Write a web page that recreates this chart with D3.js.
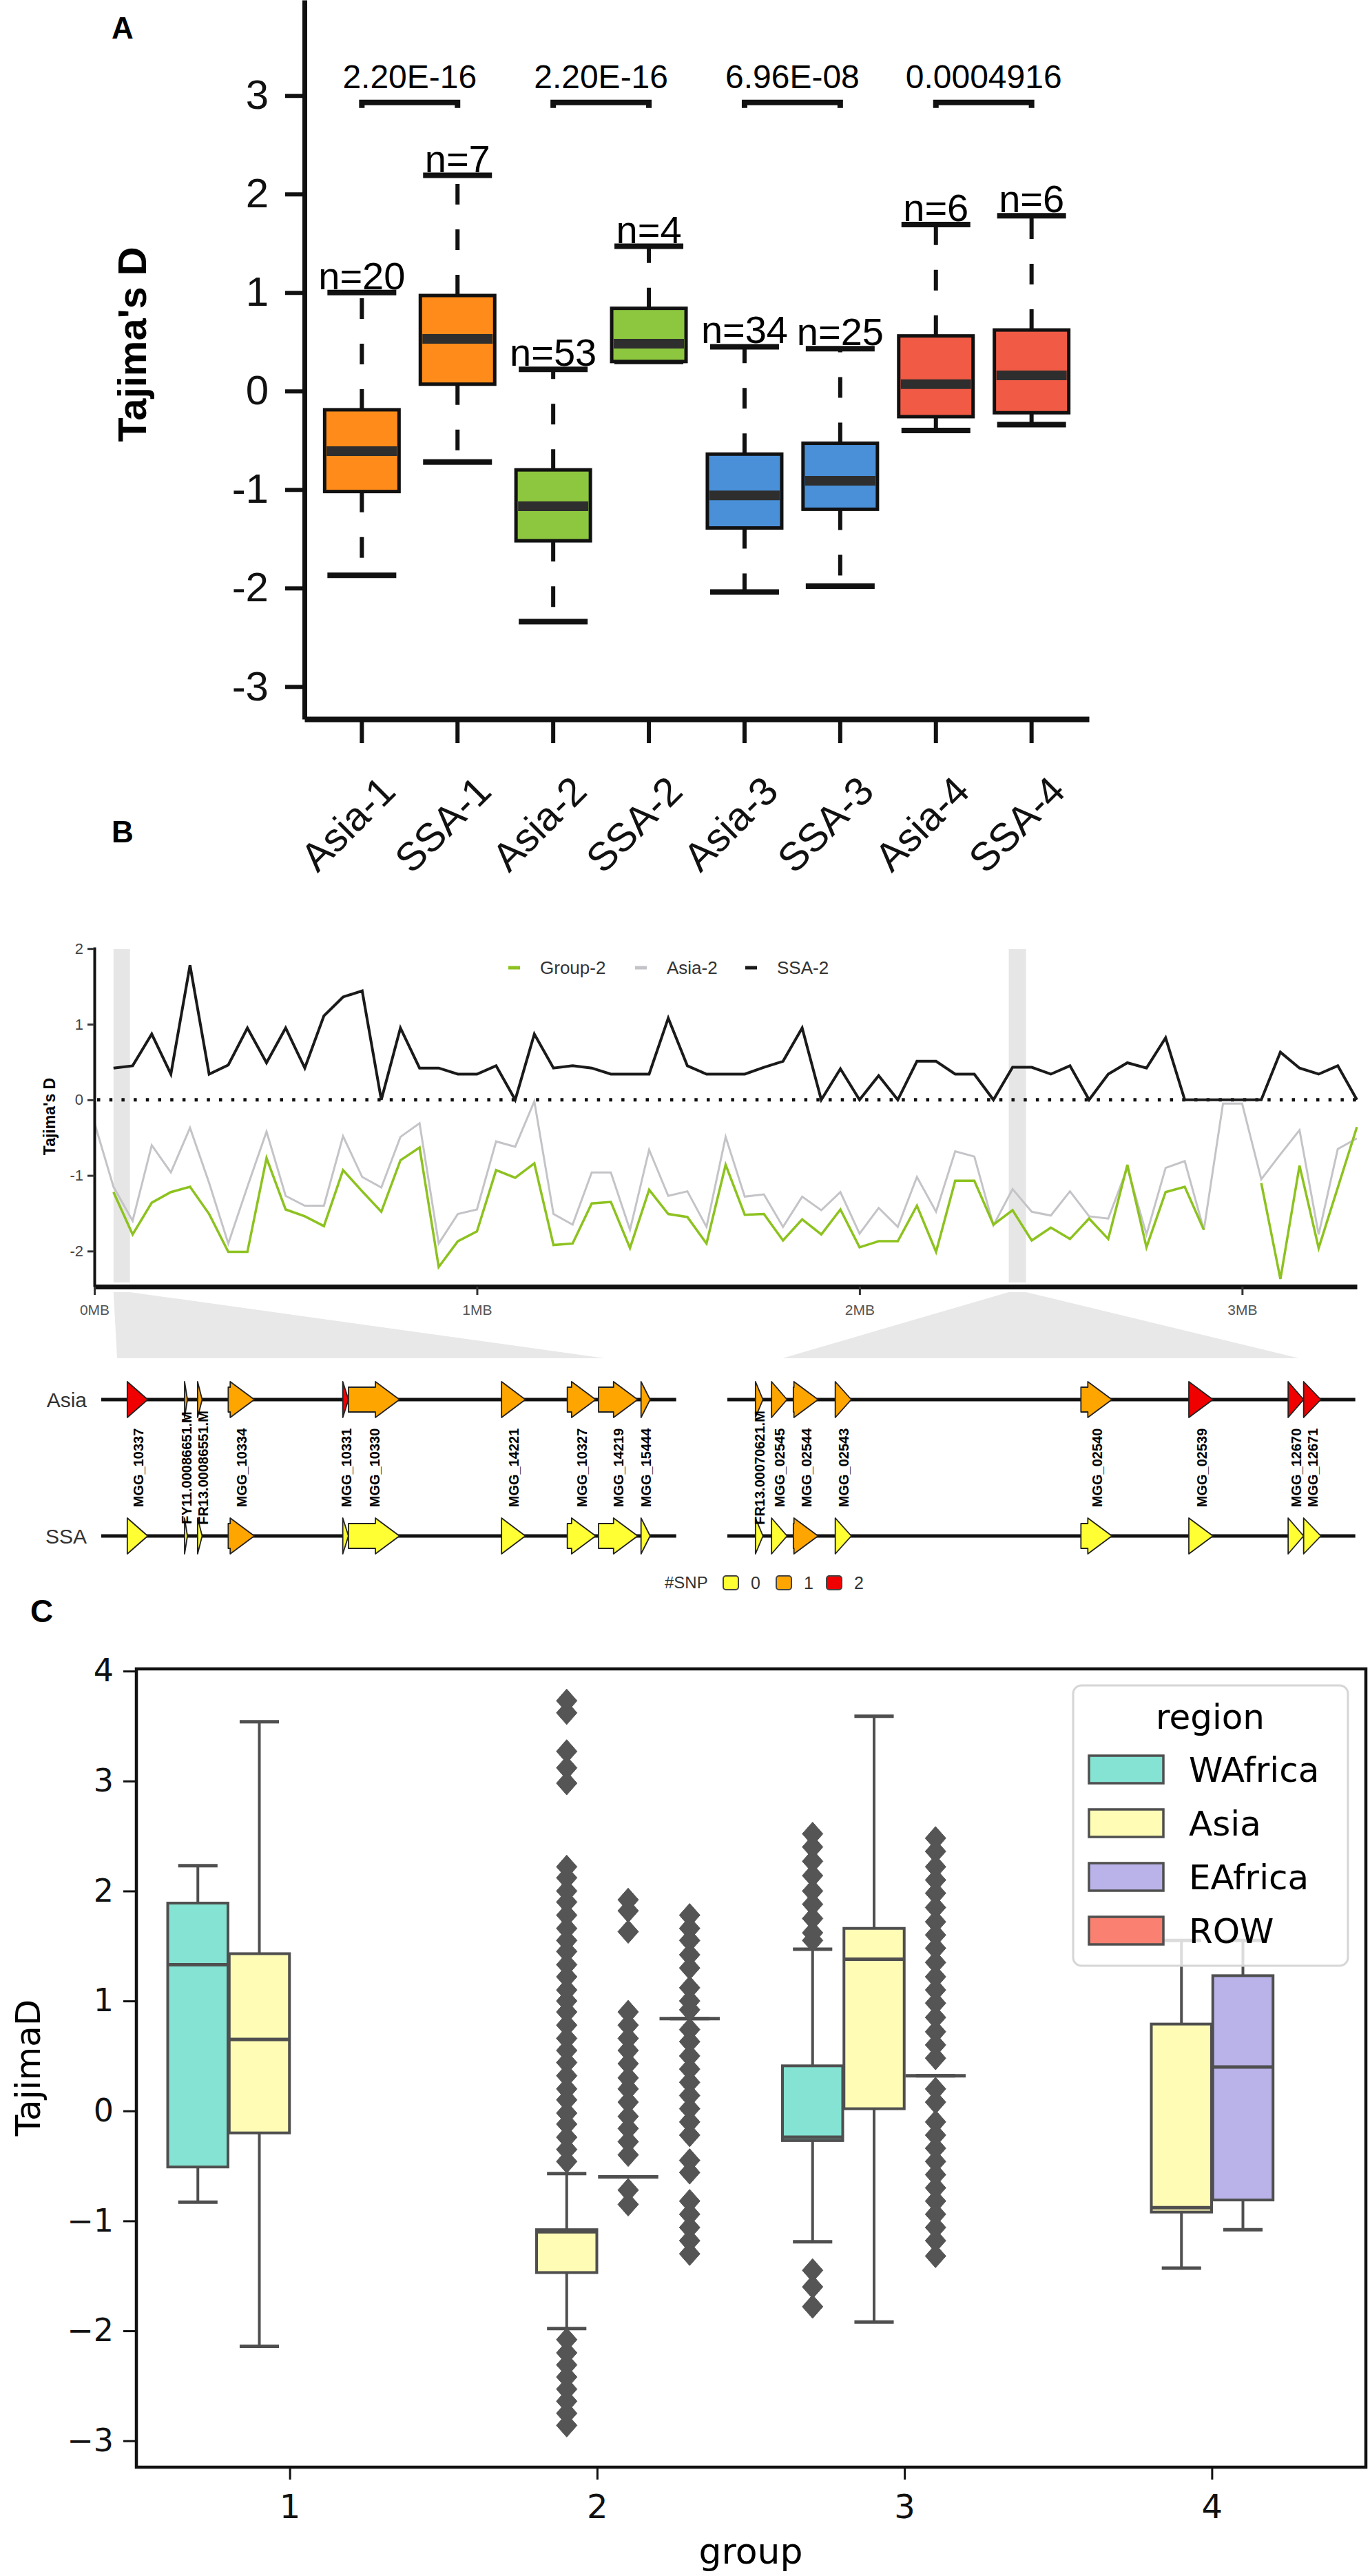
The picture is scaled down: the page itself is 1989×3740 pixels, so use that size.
<!DOCTYPE html>
<html>
<head>
<meta charset="utf-8">
<script src="https://cdn.jsdelivr.net/npm/d3@7"></script>
<style>
body { margin: 0; background: #fff; }
svg { display: block; }
</style>
</head>
<body>
<div id="chart"></div>
<script>
// ---------- Panel A : Tajima's D per sub-population ----------
var groupsA = ['Asia-1', 'SSA-1', 'Asia-2', 'SSA-2', 'Asia-3', 'SSA-3', 'Asia-4', 'SSA-4'];
var lowA  = [-1.87, -0.72, -2.34, 0.30, -2.04, -1.98, -0.40, -0.34];
var q1A   = [-1.02, 0.07, -1.52, 0.30, -1.39, -1.20, -0.26, -0.22];
var medA  = [-0.61, 0.53, -1.17, 0.48, -1.06, -0.91, 0.07, 0.16];
var q3A   = [-0.19, 0.97, -0.80, 0.84, -0.64, -0.53, 0.56, 0.62];
var highA = [1.00, 2.19, 0.22, 1.47, 0.45, 0.43, 1.69, 1.78];
var nA    = ['n=20', 'n=7', 'n=53', 'n=4', 'n=34', 'n=25', 'n=6', 'n=6'];
var pvalA = ['2.20E-16', '2.20E-16', '6.96E-08', '0.0004916'];
var ticksA = [-3, -2, -1, 0, 1, 2, 3];
var colorA = ['#FF8C1A', '#FF8C1A', '#8DC63F', '#8DC63F', '#4A90D9', '#4A90D9', '#F15B45', '#F15B45'];

// ---------- Panel B : sliding-window Tajima's D ----------
var posB = [0, 0.05, 0.10, 0.15, 0.20, 0.25, 0.30, 0.35, 0.40, 0.45, 0.50, 0.55, 0.60, 0.65, 0.70, 0.75,
  0.80, 0.85, 0.90, 0.95, 1.00, 1.05, 1.10, 1.15, 1.20, 1.25, 1.30, 1.35, 1.40, 1.45, 1.50, 1.55,
  1.60, 1.65, 1.70, 1.75, 1.80, 1.85, 1.90, 1.95, 2.00, 2.05, 2.10, 2.15, 2.20, 2.25, 2.30, 2.35,
  2.40, 2.45, 2.50, 2.55, 2.60, 2.65, 2.70, 2.75, 2.80, 2.85, 2.90, 2.95, 3.00, 3.05, 3.10, 3.15,
  3.20, 3.25, 3.30];
var ssa2 = [null, 0.42, 0.45, 0.87, 0.34, 1.78, 0.34, 0.46, 0.95, 0.49, 0.95, 0.42, 1.11, 1.36, 1.44, 0.00,
  0.95, 0.42, 0.42, 0.34, 0.34, 0.45, 0.00, 0.87, 0.42, 0.45, 0.42, 0.34, 0.34, 0.34, 1.08, 0.45,
  0.34, 0.34, 0.34, 0.43, 0.51, 0.95, 0.00, 0.41, 0.00, 0.32, 0.00, 0.51, 0.51, 0.34, 0.34, 0.00,
  0.43, 0.43, 0.34, 0.45, 0.00, 0.34, 0.49, 0.42, 0.82, 0.00, 0.00, 0.00, 0.00, 0.00, 0.63, 0.42,
  0.34, 0.45, 0.00];
var group2 = [null, -1.22, -1.78, -1.36, -1.22, -1.15, -1.51, -2.01, -2.01, -0.77, -1.45, -1.54, -1.67, -0.93, -1.21, -1.48,
  -0.80, -0.63, -2.21, -1.87, -1.74, -0.93, -1.03, -0.84, -1.92, -1.90, -1.37, -1.35, -1.96, -1.19, -1.51, -1.55,
  -1.90, -0.86, -1.52, -1.51, -1.86, -1.58, -1.78, -1.45, -1.95, -1.87, -1.87, -1.40, -2.01, -1.07, -1.07, -1.65,
  -1.46, -1.86, -1.69, -1.84, -1.57, -1.84, -0.86, -1.95, -1.22, -1.15, -1.72, null, null, -1.10, -2.37, -0.87,
  -1.96, -1.16, -0.36];
var asia2 = [-0.30, -1.15, -1.60, -0.60, -0.96, -0.37, -1.10, -1.90, -1.15, -0.42, -1.27, -1.40, -1.40, -0.48, -1.02, -1.16,
  -0.49, -0.31, -1.90, -1.51, -1.45, -0.55, -0.62, -0.02, -1.51, -1.65, -0.96, -0.96, -1.72, -0.66, -1.27, -1.21,
  -1.68, -0.49, -1.28, -1.25, -1.68, -1.28, -1.46, -1.22, -1.77, -1.43, -1.68, -1.02, -1.48, -0.68, -0.75, -1.66,
  -1.18, -1.48, -1.53, -1.21, -1.54, -1.57, -0.90, -1.78, -0.90, -0.81, -1.72, -0.05, -0.05, -1.05, -0.72, -0.40,
  -1.78, -0.65, -0.51];
var seriesNamesB = ['Group-2', 'Asia-2', 'SSA-2'];
var ticksB = [-2, -1, 0, 1, 2];
var ticksMB = [0, 1, 2, 3];
var winStartMB = [0.050, 2.390];
var winEndMB = [0.093, 2.435];

// genes in the two zoomed windows (kb), SNP counts per population
var geneNamesL = ['MGG_10337', 'FY11.00086651.M', 'FR13.00086551.M', 'MGG_10334', 'MGG_10331', 'MGG_10330',
  'MGG_14221', 'MGG_10327', 'MGG_14219', 'MGG_15444'];
var geneStartL = [50.9, 55.95, 57.1, 59.8, 69.9, 70.4, 83.9, 89.7, 92.45, 96.2];
var geneEndL   = [52.7, 56.2, 57.5, 62.1, 70.4, 74.9, 86.0, 92.2, 95.9, 97.0];
var snpAsiaL = [2, 1, 1, 1, 2, 1, 1, 1, 1, 1];
var snpSsaL  = [0, 0, 0, 1, 0, 0, 0, 0, 0, 0];
var geneNamesR = ['FR13.00070621.M', 'MGG_02545', 'MGG_02544', 'MGG_02543', 'MGG_02540', 'MGG_02539', 'MGG_12670', 'MGG_12671'];
var geneStartR = [2387.65, 2389.05, 2390.95, 2394.6, 2416.0, 2425.4, 2434.05, 2435.4];
var geneEndR   = [2388.3, 2390.4, 2393.1, 2396.0, 2418.7, 2427.5, 2435.4, 2436.9];
var snpAsiaR = [1, 1, 1, 1, 1, 2, 2, 2];
var snpSsaR  = [0, 0, 1, 0, 0, 0, 0, 0];
var trackStartKb = [48.6, 2385.2];
var trackEndKb = [99.3, 2439.9];
var snpLevels = [0, 1, 2];
var snpColors = ['#FFFF33', '#FFA500', '#F00000'];

// ---------- Panel C : Tajima's D by group and region ----------
var groupsC = ['1', '2', '3', '4'];
var regionsC = ['WAfrica', 'Asia', 'EAfrica', 'ROW'];
var regionColors = ['#84E3D2', '#FFFDB5', '#B9B3E9', '#FA8072'];
var ticksC = [-3, -2, -1, 0, 1, 2, 3, 4];
var boxGroupC  = ['1', '1', '2', '2', '2', '3', '3', '3', '4', '4'];
var boxRegionC = ['WAfrica', 'Asia', 'Asia', 'EAfrica', 'ROW', 'WAfrica', 'Asia', 'EAfrica', 'Asia', 'EAfrica'];
var lowC  = [-0.83, -2.14, -1.98, -0.60, 0.84, -1.19, -1.92, 0.32, -1.43, -1.08];
var q1C   = [-0.51, -0.20, -1.47, -0.60, 0.84, -0.27, 0.02, 0.32, -0.92, -0.81];
var medC  = [1.33, 0.65, -1.10, -0.60, 0.84, -0.24, 1.38, 0.32, -0.88, 0.40];
var q3C   = [1.89, 1.43, -1.08, -0.60, 0.84, 0.41, 1.66, 0.32, 0.79, 1.23];
var highC = [2.23, 3.54, -0.57, -0.60, 0.84, 1.47, 3.59, 0.32, 1.55, 1.55];
var fliers2Asia = [3.73, 3.62, 3.27, 3.12, 2.98, 2.22, 2.12, 2.00, 1.90, 1.78, 1.66, 1.55, 1.45, 1.33, 1.22,
  1.10, 1.00, 0.90, 0.78, 0.66, 0.55, 0.44, 0.32, 0.20, 0.10, -0.02, -0.12, -0.24, -0.35, -0.46,
  -2.08, -2.20, -2.31, -2.42, -2.53, -2.64, -2.75, -2.86];
var fliers2EAfrica = [1.92, 1.82, 1.63, 0.90, 0.78, 0.66, 0.55, 0.43, 0.30, 0.20, 0.08, -0.05, -0.16, -0.28, -0.40, -0.72, -0.85];
var fliers2ROW = [1.78, 1.66, 1.55, 1.42, 1.30, 1.12, 1.00, 0.92, 0.74, 0.63, 0.50, 0.38, 0.26, 0.14, 0.02,
  -0.10, -0.22, -0.45, -0.56, -0.82, -0.94, -1.06, -1.18, -1.30];
var fliers3WAfrica = [2.52, 2.40, 2.27, 2.14, 2.00, 1.88, 1.75, 1.62, 1.55, -1.45, -1.60, -1.78];
var fliers3EAfrica = [2.48, 2.36, 2.22, 2.10, 1.98, 1.85, 1.72, 1.60, 1.48, 1.35, 1.22, 1.10, 0.98, 0.85, 0.72,
  0.60, 0.48, 0.20, 0.08, -0.10, -0.22, -0.34, -0.46, -0.58, -0.70, -0.82, -0.94, -1.06, -1.18, -1.32];

var width = 1989, height = 3740;
var fontA = "'Liberation Sans', Arial, sans-serif";
var fontC = "'DejaVu Sans', sans-serif";

var svg = d3.select('#chart')
  .append('svg')
  .attr('width', width)
  .attr('height', height)
  .style('font-family', fontA);

svg.append('rect').attr('width', width).attr('height', height).attr('fill', '#fff');

// panel letters
svg.append('text').attr('x', 162).attr('y', 56).text('A')
  .attr('font-size', 44).attr('font-weight', 'bold');
svg.append('text').attr('x', 162).attr('y', 1223).text('B')
  .attr('font-size', 44).attr('font-weight', 'bold');
svg.append('text').attr('x', 44).attr('y', 2355).text('C')
  .attr('font-size', 46).attr('font-weight', 'bold');

// =============== PANEL A ===============
var yA = d3.scaleLinear().domain([-3.33, 3.97]).range([1044, 0]);
var xA = d3.scaleBand().domain(groupsA).range([442, 1581]).paddingInner(0).paddingOuter(0.1);
var cxA = function(g) { return xA(g) + xA.bandwidth() / 2; };

var boxesA = groupsA.map(function(g, i) {
  return { g: g, low: lowA[i], q1: q1A[i], med: medA[i], q3: q3A[i], high: highA[i], n: nA[i], color: colorA[i] };
});

var gA = svg.append('g');
var boxW = 108, capW = 100;

// dashed whiskers
gA.selectAll('.wup').data(boxesA).enter().append('line')
  .attr('x1', d => cxA(d.g)).attr('x2', d => cxA(d.g))
  .attr('y1', d => yA(d.q3)).attr('y2', d => yA(d.high))
  .attr('stroke', '#111').attr('stroke-width', 6).attr('stroke-dasharray', '30,36');
gA.selectAll('.wdn').data(boxesA).enter().append('line')
  .attr('x1', d => cxA(d.g)).attr('x2', d => cxA(d.g))
  .attr('y1', d => yA(d.q1)).attr('y2', d => yA(d.low))
  .attr('stroke', '#111').attr('stroke-width', 6).attr('stroke-dasharray', '30,36');

// caps
gA.selectAll('.capup').data(boxesA).enter().append('line')
  .attr('x1', d => cxA(d.g) - capW / 2).attr('x2', d => cxA(d.g) + capW / 2)
  .attr('y1', d => yA(d.high)).attr('y2', d => yA(d.high))
  .attr('stroke', '#111').attr('stroke-width', 8);
gA.selectAll('.capdn').data(boxesA).enter().append('line')
  .attr('x1', d => cxA(d.g) - capW / 2).attr('x2', d => cxA(d.g) + capW / 2)
  .attr('y1', d => yA(d.low)).attr('y2', d => yA(d.low))
  .attr('stroke', '#111').attr('stroke-width', 8);

// boxes
gA.selectAll('.box').data(boxesA).enter().append('rect')
  .attr('x', d => cxA(d.g) - boxW / 2)
  .attr('y', d => yA(d.q3))
  .attr('width', boxW)
  .attr('height', d => yA(d.q1) - yA(d.q3))
  .attr('fill', d => d.color)
  .attr('stroke', '#111').attr('stroke-width', 5);

// medians
gA.selectAll('.med').data(boxesA).enter().append('line')
  .attr('x1', d => cxA(d.g) - boxW / 2 + 3).attr('x2', d => cxA(d.g) + boxW / 2 - 3)
  .attr('y1', d => yA(d.med)).attr('y2', d => yA(d.med))
  .attr('stroke', '#2e2e2e').attr('stroke-width', 14);

// n labels
gA.selectAll('.nlab').data(boxesA).enter().append('text')
  .attr('x', d => cxA(d.g))
  .attr('y', d => yA(d.high) - 5)
  .attr('text-anchor', 'middle')
  .attr('font-size', 56)
  .text(d => d.n);

// significance brackets
var bracketY = yA(2.93);
pvalA.forEach(function(p, k) {
  var x1 = cxA(groupsA[2 * k]), x2 = cxA(groupsA[2 * k + 1]);
  gA.append('path')
    .attr('d', 'M' + x1 + ',' + (bracketY + 8) + 'V' + bracketY + 'H' + x2 + 'V' + (bracketY + 8))
    .attr('fill', 'none').attr('stroke', '#111').attr('stroke-width', 8);
  gA.append('text')
    .attr('x', (x1 + x2) / 2).attr('y', bracketY - 21)
    .attr('text-anchor', 'middle').attr('font-size', 48)
    .text(p);
});

// axes A
var yAxisA = d3.axisLeft(yA).tickValues(ticksA).tickFormat(String)
  .tickSize(28).tickSizeOuter(0).tickPadding(24);
var gyA = svg.append('g').attr('transform', 'translate(442,0)').call(yAxisA);
gyA.select('.domain').attr('stroke', '#111').attr('stroke-width', 7);
gyA.selectAll('.tick line').attr('stroke', '#111').attr('stroke-width', 6);
gyA.selectAll('.tick text').attr('font-size', 60).attr('font-family', fontA).attr('fill', '#111');

var xAxisA = d3.axisBottom(xA).tickSize(35).tickSizeOuter(0);
var gxA = svg.append('g').attr('transform', 'translate(0,1044)').call(xAxisA);
gxA.select('.domain').attr('stroke', '#111').attr('stroke-width', 8);
gxA.selectAll('.tick line').attr('stroke', '#111').attr('stroke-width', 6);
gxA.selectAll('.tick text')
  .attr('x', 0).attr('y', 0).attr('dy', 0)
  .attr('text-anchor', 'end')
  .attr('transform', 'translate(52,108) rotate(-45)')
  .attr('font-size', 58).attr('font-family', fontA).attr('fill', '#111');

svg.append('text')
  .attr('transform', 'translate(212,500) rotate(-90)')
  .attr('text-anchor', 'middle')
  .attr('font-size', 58).attr('font-weight', 'bold')
  .text("Tajima's D");

// =============== PANEL B ===============
var xB = d3.scaleLinear().domain([0, 3.30]).range([137, 1970]);
var yB = d3.scaleLinear().domain([-2.47, 2.02]).range([1868, 1375]);
var gB = svg.append('g');

// highlighted windows
winStartMB.forEach(function(s, w) {
  gB.append('rect')
    .attr('x', xB(s)).attr('y', yB(2.02) + 3)
    .attr('width', xB(winEndMB[w]) - xB(s))
    .attr('height', yB(-2.47) - yB(2.02) - 9)
    .attr('fill', '#e6e6e6');
});

// zero reference
gB.append('line')
  .attr('x1', xB(0) + 4).attr('x2', xB(3.30))
  .attr('y1', yB(0)).attr('y2', yB(0))
  .attr('stroke', '#111').attr('stroke-width', 5).attr('stroke-dasharray', '4.5,13.2');

var rowsB = posB.map(function(p, i) {
  return { pos: p, asia: asia2[i], group: group2[i], ssa: ssa2[i] };
});
function lineB(key) {
  return d3.line()
    .defined(d => d[key] !== null)
    .x(d => xB(d.pos))
    .y(d => yB(d[key]));
}
gB.append('path').datum(rowsB).attr('d', lineB('asia'))
  .attr('fill', 'none').attr('stroke', '#c4c4c8').attr('stroke-width', 3);
gB.append('path').datum(rowsB).attr('d', lineB('group'))
  .attr('fill', 'none').attr('stroke', '#8DC21F').attr('stroke-width', 3.5);
gB.append('path').datum(rowsB).attr('d', lineB('ssa'))
  .attr('fill', 'none').attr('stroke', '#1a1a1a').attr('stroke-width', 4);

var yAxisB = d3.axisLeft(yB).tickValues(ticksB).tickFormat(String)
  .tickSize(10).tickSizeOuter(0).tickPadding(6);
var gyB = svg.append('g').attr('transform', 'translate(137,0)').call(yAxisB);
gyB.select('.domain').attr('stroke', '#111').attr('stroke-width', 4);
gyB.selectAll('.tick line').attr('stroke', '#333').attr('stroke-width', 3);
gyB.selectAll('.tick text').attr('font-size', 22).attr('font-family', fontA).attr('fill', '#444');

var xAxisB = d3.axisBottom(xB).tickValues(ticksMB).tickFormat(d => d + 'MB').tickSize(12).tickSizeOuter(0).tickPadding(14);
var gxB = svg.append('g').attr('transform', 'translate(0,1868)').call(xAxisB);
gxB.select('.domain').attr('stroke', '#111').attr('stroke-width', 7);
gxB.selectAll('.tick line').attr('stroke', '#333').attr('stroke-width', 3);
gxB.selectAll('.tick text').attr('font-size', 21).attr('font-family', fontA).attr('fill', '#555');

svg.append('text')
  .attr('transform', 'translate(80,1621) rotate(-90)')
  .attr('text-anchor', 'middle')
  .attr('font-size', 23).attr('font-weight', 'bold')
  .text("Tajima's D");

// legend B
var legColB = ['#8DC21F', '#c4c4c8', '#1a1a1a'];
var legXB = [738, 922, 1082];
seriesNamesB.forEach(function(name, i) {
  gB.append('line')
    .attr('x1', legXB[i]).attr('x2', legXB[i] + 17)
    .attr('y1', 1405).attr('y2', 1405)
    .attr('stroke', legColB[i]).attr('stroke-width', 5);
  gB.append('text')
    .attr('x', legXB[i] + 46).attr('y', 1414)
    .attr('font-size', 26).attr('fill', '#333')
    .text(name);
});

// ---- gene windows ----
var trapBottom = [[170, 878], [1136, 1886]];
var trackY = { Asia: 2032, SSA: 2230 };
var gGenes = svg.append('g');
var headW = 35, headH = 26, bodyH = 18;

function geneShape(x0, x1, ty) {
  var len = x1 - x0;
  if (len <= headW) {
    return 'M' + x0 + ',' + (ty - headH) + 'L' + x1 + ',' + ty + 'L' + x0 + ',' + (ty + headH) + 'Z';
  }
  var xh = x1 - headW;
  return 'M' + x0 + ',' + (ty - bodyH) + 'L' + xh + ',' + (ty - bodyH) + 'L' + xh + ',' + (ty - headH) +
    'L' + x1 + ',' + ty + 'L' + xh + ',' + (ty + headH) + 'L' + xh + ',' + (ty + bodyH) +
    'L' + x0 + ',' + (ty + bodyH) + 'Z';
}

var snpColor = d3.scaleOrdinal().domain(snpLevels).range(snpColors);
var windows = [
  { names: geneNamesL, start: geneStartL, end: geneEndL, asia: snpAsiaL, ssa: snpSsaL },
  { names: geneNamesR, start: geneStartR, end: geneEndR, asia: snpAsiaR, ssa: snpSsaR }
];

windows.forEach(function(win, w) {
  var gx = d3.scaleLinear().domain([winStartMB[w] * 1000, winEndMB[w] * 1000]).range(trapBottom[w]);

  // zoom wedge from the highlighted window
  var pts = [[xB(winStartMB[w]), 1876], [xB(winEndMB[w]), 1876], [trapBottom[w][1], 1972], [trapBottom[w][0], 1972]];
  gGenes.append('path')
    .attr('d', 'M' + pts.map(p => p.join(',')).join('L') + 'Z')
    .attr('fill', '#e8e8e8');

  ['Asia', 'SSA'].forEach(function(pop) {
    var ty = trackY[pop];
    gGenes.append('line')
      .attr('x1', gx(trackStartKb[w])).attr('x2', gx(trackEndKb[w]))
      .attr('y1', ty).attr('y2', ty)
      .attr('stroke', '#111').attr('stroke-width', 5);
    var counts = pop === 'Asia' ? win.asia : win.ssa;
    win.names.forEach(function(n, i) {
      gGenes.append('path')
        .attr('d', geneShape(gx(win.start[i]), gx(win.end[i]), ty))
        .attr('fill', snpColor(counts[i]))
        .attr('stroke', '#222').attr('stroke-width', 1.8)
        .attr('stroke-linejoin', 'round');
    });
  });

  // gene labels, nudged apart when they collide
  var lastX = -1e9;
  win.names.forEach(function(n, i) {
    var cx = (gx(win.start[i]) + gx(win.end[i])) / 2;
    if (cx - lastX < 24) cx = lastX + 24;
    lastX = cx;
    gGenes.append('text')
      .attr('transform', 'translate(' + (cx + 8) + ',2131) rotate(-90)')
      .attr('text-anchor', 'middle')
      .attr('font-size', 20).attr('font-weight', 'bold')
      .text(n);
  });
});

['Asia', 'SSA'].forEach(function(pop) {
  svg.append('text')
    .attr('x', 126).attr('y', trackY[pop] + 11)
    .attr('text-anchor', 'end')
    .attr('font-size', 30).attr('fill', '#333')
    .text(pop);
});

// SNP legend
svg.append('text').attr('x', 965).attr('y', 2306).attr('font-size', 24).attr('fill', '#333').text('#SNP');
var legSnpX = [1050, 1127, 1200];
snpLevels.forEach(function(s, i) {
  svg.append('rect')
    .attr('x', legSnpX[i]).attr('y', 2288)
    .attr('width', 22).attr('height', 20).attr('rx', 4)
    .attr('fill', snpColor(s)).attr('stroke', '#444').attr('stroke-width', 2);
  svg.append('text')
    .attr('x', legSnpX[i] + 40).attr('y', 2307)
    .attr('font-size', 25).attr('fill', '#333')
    .text(s);
});

// =============== PANEL C ===============
var xC = d3.scaleBand().domain(groupsC).range([198, 1983]).padding(0);
var hueC = d3.scaleBand().domain(regionsC).range([0.1 * xC.bandwidth(), 0.9 * xC.bandwidth()]).padding(0);
var yC = d3.scaleLinear().domain([-3.24, 4.02]).range([3582, 2423]);
var colC = d3.scaleOrdinal().domain(regionsC).range(regionColors);
var lineCol = '#4f4f4f';

var boxesC = boxGroupC.map(function(g, i) {
  return { g: g, r: boxRegionC[i], low: lowC[i], q1: q1C[i], med: medC[i], q3: q3C[i], high: highC[i] };
});
var bxC = function(d) { return xC(d.g) + hueC(d.r) + hueC.bandwidth() / 2; };
var bwC = hueC.bandwidth() * 0.98;
var capC = hueC.bandwidth() * 0.64;

var gC = svg.append('g');

gC.selectAll('.wh').data(boxesC).enter().append('path')
  .attr('d', d => 'M' + bxC(d) + ',' + yC(d.q3) + 'V' + yC(d.high) + 'M' + bxC(d) + ',' + yC(d.q1) + 'V' + yC(d.low))
  .attr('stroke', lineCol).attr('stroke-width', 4).attr('fill', 'none');
gC.selectAll('.cap').data(boxesC).enter().append('path')
  .attr('d', d => 'M' + (bxC(d) - capC / 2) + ',' + yC(d.high) + 'h' + capC +
    'M' + (bxC(d) - capC / 2) + ',' + yC(d.low) + 'h' + capC)
  .attr('stroke', lineCol).attr('stroke-width', 5).attr('fill', 'none');
gC.selectAll('.box').data(boxesC).enter().append('rect')
  .attr('x', d => bxC(d) - bwC / 2)
  .attr('y', d => yC(d.q3))
  .attr('width', bwC)
  .attr('height', d => yC(d.q1) - yC(d.q3))
  .attr('fill', d => colC(d.r))
  .attr('stroke', lineCol).attr('stroke-width', 4);
gC.selectAll('.med').data(boxesC).enter().append('line')
  .attr('x1', d => bxC(d) - bwC / 2).attr('x2', d => bxC(d) + bwC / 2)
  .attr('y1', d => yC(d.med)).attr('y2', d => yC(d.med))
  .attr('stroke', lineCol).attr('stroke-width', 5);

// outliers
var flierSets = [
  { g: '2', r: 'Asia', v: fliers2Asia },
  { g: '2', r: 'EAfrica', v: fliers2EAfrica },
  { g: '2', r: 'ROW', v: fliers2ROW },
  { g: '3', r: 'WAfrica', v: fliers3WAfrica },
  { g: '3', r: 'EAfrica', v: fliers3EAfrica }
];
var diamond = 'M0,-17L15,0L0,17L-15,0Z';
flierSets.forEach(function(f) {
  gC.selectAll(null).data(f.v).enter().append('path')
    .attr('d', diamond)
    .attr('transform', d => 'translate(' + bxC(f) + ',' + yC(d) + ')')
    .attr('fill', '#555').attr('stroke', '#555').attr('stroke-width', 1);
});

// frame + axes
var yAxisC = d3.axisLeft(yC).tickValues(ticksC).tickSize(19).tickSizeOuter(0).tickPadding(14)
  .tickFormat(d => d < 0 ? '\u2212' + Math.abs(d) : d);
var gyC = svg.append('g').attr('transform', 'translate(198,0)').call(yAxisC);
gyC.select('.domain').remove();
gyC.selectAll('.tick line').attr('stroke', '#111').attr('stroke-width', 3);
gyC.selectAll('.tick text').attr('font-size', 46).attr('font-family', fontC).attr('fill', '#111');

var xAxisC = d3.axisBottom(xC).tickSize(18).tickSizeOuter(0).tickPadding(22);
var gxC = svg.append('g').attr('transform', 'translate(0,3582)').call(xAxisC);
gxC.select('.domain').remove();
gxC.selectAll('.tick line').attr('stroke', '#111').attr('stroke-width', 3);
gxC.selectAll('.tick text').attr('font-size', 48).attr('font-family', fontC).attr('fill', '#111');

svg.append('rect')
  .attr('x', 198).attr('y', 2423).attr('width', 1983 - 198).attr('height', 3582 - 2423)
  .attr('fill', 'none').attr('stroke', '#111').attr('stroke-width', 4.5);

svg.append('text')
  .attr('x', 1090).attr('y', 3722)
  .attr('text-anchor', 'middle')
  .attr('font-family', fontC).attr('font-size', 52)
  .text('group');
svg.append('text')
  .attr('transform', 'translate(58,3002) rotate(-90)')
  .attr('text-anchor', 'middle')
  .attr('font-family', fontC).attr('font-size', 50)
  .text('TajimaD');

// legend C
var gLegC = svg.append('g').attr('font-family', fontC);
gLegC.append('rect')
  .attr('x', 1558).attr('y', 2447).attr('width', 399).attr('height', 407).attr('rx', 12)
  .attr('fill', '#fff').attr('fill-opacity', 0.8)
  .attr('stroke', '#d6d6d6').attr('stroke-width', 3);
gLegC.append('text')
  .attr('x', 1757).attr('y', 2510)
  .attr('text-anchor', 'middle').attr('font-size', 50)
  .text('region');
regionsC.forEach(function(r, i) {
  var cy = 2569 + i * 78;
  gLegC.append('rect')
    .attr('x', 1581).attr('y', cy - 20).attr('width', 108).attr('height', 40)
    .attr('fill', colC(r)).attr('stroke', lineCol).attr('stroke-width', 3.5);
  gLegC.append('text')
    .attr('x', 1726).attr('y', cy + 18)
    .attr('font-size', 50)
    .text(r);
});
</script>
</body>
</html>
